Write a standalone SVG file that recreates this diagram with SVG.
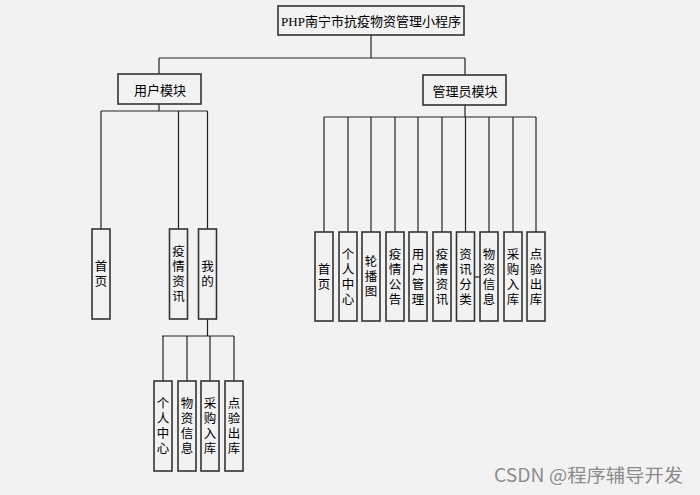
<svg xmlns="http://www.w3.org/2000/svg" width="700" height="495" viewBox="0 0 700 495">
<style>
.bg{fill:#f2f2f2}
.box{fill:#f2f2f2;stroke:#333;stroke-width:1.6}
.ln{fill:none;stroke:#222;stroke-width:1.2}
.t{font-family:"Noto Sans CJK SC","Liberation Sans",sans-serif;font-size:13px;fill:#000;text-anchor:middle;dominant-baseline:central}
.serif{font-family:"Liberation Serif",serif}
.v{font-family:"Noto Sans CJK SC","Liberation Sans",sans-serif;font-size:12.5px;fill:#000;text-anchor:middle;writing-mode:vertical-rl;text-orientation:upright;letter-spacing:2.5px}
.wm{font-family:"Noto Sans CJK SC","Liberation Sans",sans-serif;font-size:18px;fill:#8c8c8c}
</style>
<rect class="bg" x="0" y="0" width="700" height="495"/>
<g id="connectors">
<path class="ln" d="M371,35V58M159,58H465M159,58V74M465,58V75"/>
<path class="ln" d="M159,104V111M101,111H207.5M101,111V229M178.5,111V229M207.5,111V229"/>
<path class="ln" d="M207.5,319V336M162,336H234M163,336V381M187,336V381M210,336V381M234,336V381"/>
<path class="ln" d="M465,105V117M324,117H536M324,117V232M348,117V232M371,117V232M395,117V232M418,117V232M442,117V232M465.5,117V232M489,117V232M513,117V232M536,117V232"/>
<path class="ln" d="M474.5,277H480"/>
</g>
<g id="root"><rect class="box" x="278" y="6" width="186" height="29"/><text class="t" x="371" y="20.5"><tspan class="serif">PHP</tspan>南宁市抗疫物资管理小程序</text></g>
<g id="user"><rect class="box" x="118" y="74" width="83" height="30"/><text class="t" x="160" y="89">用户模块</text></g>
<g id="admin"><rect class="box" x="423" y="75" width="83" height="30"/><text class="t" x="465" y="90">管理员模块</text></g>
<g id="u-home"><rect class="box" x="92" y="229" width="18" height="90"/><text class="v" x="101" y="275">首页</text></g>
<g id="u-news"><rect class="box" x="169.5" y="229" width="18" height="90"/><text class="v" x="178.5" y="275">疫情资讯</text></g>
<g id="u-mine"><rect class="box" x="198.5" y="229" width="18" height="90"/><text class="v" x="207.5" y="275">我的</text></g>
<g id="m-center"><rect class="box" x="154" y="381" width="18" height="90"/><text class="v" x="163" y="427">个人中心</text></g>
<g id="m-goods"><rect class="box" x="178" y="381" width="18" height="90"/><text class="v" x="187" y="427">物资信息</text></g>
<g id="m-buy"><rect class="box" x="201" y="381" width="18" height="90"/><text class="v" x="210" y="427">采购入库</text></g>
<g id="m-out"><rect class="box" x="225" y="381" width="18" height="90"/><text class="v" x="234" y="427">点验出库</text></g>
<g id="a-home"><rect class="box" x="315" y="232" width="18" height="89"/><text class="v" x="324" y="277.5">首页</text></g>
<g id="a-center"><rect class="box" x="339" y="232" width="18" height="89"/><text class="v" x="348" y="277.5">个人中心</text></g>
<g id="a-carousel"><rect class="box" x="362" y="232" width="18" height="89"/><text class="v" x="371" y="277.5">轮播图</text></g>
<g id="a-notice"><rect class="box" x="386" y="232" width="18" height="89"/><text class="v" x="395" y="277.5">疫情公告</text></g>
<g id="a-users"><rect class="box" x="409" y="232" width="18" height="89"/><text class="v" x="418" y="277.5">用户管理</text></g>
<g id="a-news"><rect class="box" x="433" y="232" width="18" height="89"/><text class="v" x="442" y="277.5">疫情资讯</text></g>
<g id="a-category"><rect class="box" x="456.5" y="232" width="18" height="89"/><text class="v" x="465.5" y="277.5">资讯分类</text></g>
<g id="a-goods"><rect class="box" x="480" y="232" width="18" height="89"/><text class="v" x="489" y="277.5">物资信息</text></g>
<g id="a-buy"><rect class="box" x="504" y="232" width="18" height="89"/><text class="v" x="513" y="277.5">采购入库</text></g>
<g id="a-out"><rect class="box" x="527" y="232" width="18" height="89"/><text class="v" x="536" y="277.5">点验出库</text></g>
<text class="wm" x="494" y="482" textLength="189" lengthAdjust="spacingAndGlyphs">CSDN @程序辅导开发</text>
</svg>
